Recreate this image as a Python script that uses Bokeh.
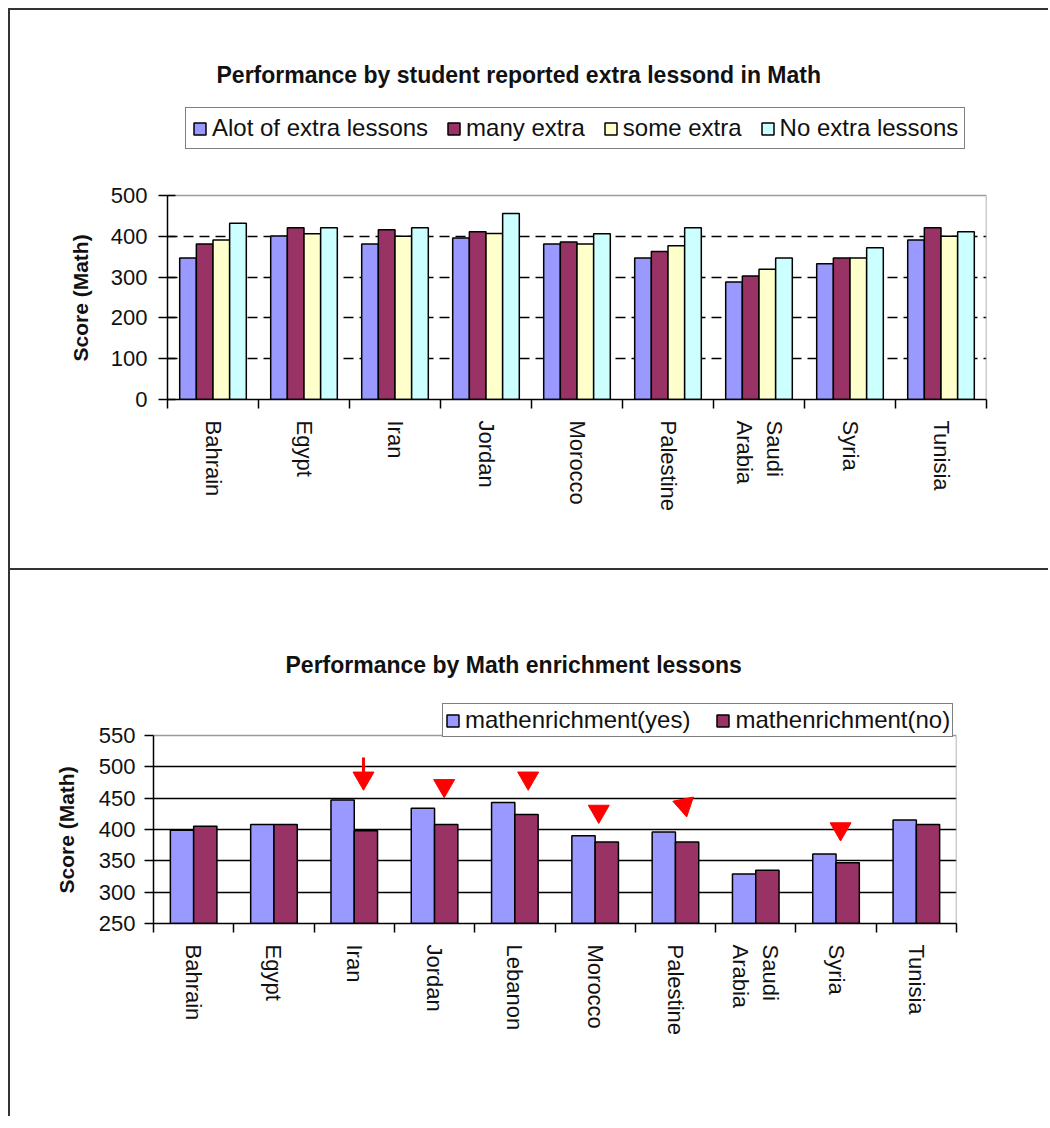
import numpy as np
from bokeh.plotting import figure
from bokeh.models import (Range1d, FixedTicker, Legend, LegendItem, Label, Title,
                          ColumnDataSource, CustomJSTickFormatter)
from bokeh.layouts import column
from bokeh.embed import file_html
from bokeh.resources import INLINE

# ---------------- data ----------------
countries1 = ["Bahrain", "Egypt", "Iran", "Jordan", "Morocco", "Palestine",
              "Saudi Arabia", "Syria", "Tunisia"]
series1_names = ["Alot of extra lessons", "many extra", "some extra", "No extra lessons"]
alot_extra = [347, 401, 381, 396, 381, 347, 288, 333, 391]
many_extra = [381, 421, 416, 411, 386, 363, 303, 347, 421]
some_extra = [391, 406, 400, 407, 381, 377, 319, 347, 400]
no_extra = [432, 421, 421, 456, 406, 421, 347, 372, 411]
y1_ticks = [0, 100, 200, 300, 400, 500]

countries2 = ["Bahrain", "Egypt", "Iran", "Jordan", "Lebanon", "Morocco",
              "Palestine", "Saudi Arabia", "Syria", "Tunisia"]
series2_names = ["mathenrichment(yes)", "mathenrichment(no)"]
enrich_yes = [399, 408, 447, 434, 443, 390, 396, 329, 361, 415]
enrich_no = [405, 408, 398, 408, 424, 380, 380, 335, 347, 408]
y2_ticks = [250, 300, 350, 400, 450, 500, 550]

# red arrow markers (country, value at marker centre)
arrow_countries = ["Iran", "Jordan", "Lebanon", "Morocco", "Palestine", "Syria"]
arrow_values = [482, 470, 482, 429, 439, 401]

FONT = "Liberation Sans"
colors1 = ["#9999FF", "#993366", "#FFFFCC", "#CCFFFF"]
colors2 = ["#9999FF", "#993366"]
BORDER_GRAY = "#9a9a9a"


def label_formatter(names):
    disp = [n.replace(" ", "\n") for n in names]
    return CustomJSTickFormatter(args=dict(names=disp),
                                 code="const i = Math.floor(tick); return names[i] || '';")


def make_chart(names, yticks, plot_px, frame_h, tick_in, y_standoff,
               ylab_offset, ylab_standoff, border):
    """plot_px: pixel height of the value area (yticks[0]..yticks[-1]);
    the frame extends above it to hold the title and legend."""
    n = len(names)
    ylo, yhi = yticks[0], yticks[-1]
    ytop = ylo + (yhi - ylo) * frame_h / plot_px
    p = figure(width=1040, height=border["h"], x_range=Range1d(0, n),
               y_range=Range1d(ylo, ytop),
               output_backend="svg", toolbar_location=None,
               min_border_left=border["l"], min_border_right=border["r"],
               min_border_top=border["t"], min_border_bottom=border["b"])
    p.frame_align = False
    p.styles = {"border-top": "2px solid #333333", "border-left": "2px solid #333333"}
    p.outline_line_color = None
    p.background_fill_color = "white"
    p.border_fill_color = "white"

    p.xaxis.ticker = FixedTicker(ticks=[i + 0.5 for i in range(n)],
                                 minor_ticks=list(range(n + 1)))
    p.xaxis.formatter = label_formatter(names)
    p.xaxis.major_label_orientation = -np.pi / 2
    p.xaxis.major_tick_out = 0
    p.xaxis.major_tick_in = 0
    p.xaxis.minor_tick_out = 9
    p.xaxis.minor_tick_in = 0
    p.xaxis.minor_tick_line_color = "black"
    p.xaxis.minor_tick_line_width = 1.5
    p.xaxis.major_label_standoff = 12
    p.xaxis.axis_line_color = "black"
    p.xaxis.axis_line_width = 1.5

    p.yaxis.bounds = (ylo, yhi)
    p.yaxis.ticker = FixedTicker(ticks=yticks)
    p.yaxis.major_tick_out = 9
    p.yaxis.major_tick_in = tick_in
    p.yaxis.major_tick_line_width = 1.5
    p.yaxis.major_tick_line_color = "black"
    p.yaxis.minor_tick_line_color = None
    p.yaxis.axis_line_color = "black"
    p.yaxis.axis_line_width = 1.5
    p.yaxis.major_label_standoff = y_standoff

    for ax in (p.xaxis, p.yaxis):
        ax.major_label_text_font = FONT
        ax.major_label_text_font_size = "22px"
        ax.major_label_text_color = "#111111"
    p.xgrid.visible = False

    # y axis title, placed in the left side panel
    p.add_layout(Title(text="Score (Math)", align="left", offset=ylab_offset,
                       standoff=ylab_standoff, text_font=FONT, text_font_size="21px",
                       text_font_style="bold", text_color="#111111"), "left")

    # grey top / right border of the value area
    p.segment(x0=[0, n], y0=[yhi, ylo], x1=[n, n], y1=[yhi, yhi],
              line_color=BORDER_GRAY, line_width=1.5)
    return p


def add_title(p, text, x, y):
    p.add_layout(Label(x=x, y=y, x_units="screen", y_units="screen", text=text,
                       text_font=FONT, text_font_size="23px", text_font_style="bold",
                       text_align="left", text_baseline="alphabetic", text_color="#111111"))


def add_legend(p, items, loc, padding, spacing):
    p.add_layout(Legend(items=items, location=loc, orientation="horizontal",
                        label_text_font=FONT, label_text_font_size="24px",
                        label_text_color="#111111",
                        glyph_width=15, glyph_height=15, label_standoff=5, spacing=spacing,
                        padding=padding, margin=0, border_line_color="black",
                        border_line_width=1.5, background_fill_color="white",
                        background_fill_alpha=1.0))


# ---------------- chart 1 ----------------
n1 = len(countries1)
p1 = make_chart(countries1, y1_ticks, 204, 349, 8, 11, 38, 31,
                dict(h=560, l=157, r=64, t=40, b=171))
p1.ygrid.ticker = FixedTicker(ticks=[100, 200, 300, 400])
p1.ygrid.grid_line_color = "black"
p1.ygrid.grid_line_width = 1.5
p1.ygrid.grid_line_dash = "10 6"

bw1 = 0.183
offs1 = [-1.5 * bw1, -0.5 * bw1, 0.5 * bw1, 1.5 * bw1]
vals1 = [alot_extra, many_extra, some_extra, no_extra]
items1 = []
for k in range(4):
    src = ColumnDataSource(dict(x=np.arange(n1) + 0.5 + offs1[k], top=vals1[k]))
    r = p1.vbar(x="x", top="top", bottom=0, width=bw1, source=src,
                fill_color=colors1[k], line_color="black", line_width=1.5)
    items1.append(LegendItem(label=series1_names[k], renderers=[r]))
add_legend(p1, items1, (18, 250), 6, 18)
add_title(p1, "Performance by student reported extra lessond in Math", 49, 325)

# ---------------- chart 2 ----------------
n2 = len(countries2)
p2 = make_chart(countries2, y2_ticks, 188, 285, 0, 9, 30, 36,
                dict(h=548, l=143, r=94, t=68, b=195))
p2.ygrid.ticker = FixedTicker(ticks=[300, 350, 400, 450, 500])
p2.ygrid.grid_line_color = "black"
p2.ygrid.grid_line_width = 1.5

bw2 = 0.29
offs2 = [-0.5 * bw2, 0.5 * bw2]
vals2 = [enrich_yes, enrich_no]
items2 = []
for k in range(2):
    src = ColumnDataSource(dict(x=np.arange(n2) + 0.5 + offs2[k], top=vals2[k]))
    r = p2.vbar(x="x", top="top", bottom=250, width=bw2, source=src,
                fill_color=colors2[k], line_color="black", line_width=1.5)
    items2.append(LegendItem(label=series2_names[k], renderers=[r]))
add_legend(p2, items2, (289, 186), 2, 25)
add_title(p2, "Performance by Math enrichment lessons", 132, 259)

# red arrows
arrow_shift = [0.115, 0.12, 0.166, 0.045, 0.11, 0.056]
arrow_angle = [0, 0, 0, 0, 0.2, 0]
ax_pos = [countries2.index(c) + 0.5 + s for c, s in zip(arrow_countries, arrow_shift)]
p2.scatter(x=ax_pos, y=arrow_values, marker="inverted_triangle", size=21,
           angle=arrow_angle, fill_color="#FF0000", line_color="#FF0000")
iran_x = countries2.index("Iran") + 0.5 + arrow_shift[0]
p2.segment(x0=[iran_x], y0=[515], x1=[iran_x], y1=[488], line_color="#FF0000", line_width=3)

layout = column(p1, p2, spacing=0, margin=(8, 0, 0, 8))
open("out.html", "w").write(file_html(layout, INLINE))
